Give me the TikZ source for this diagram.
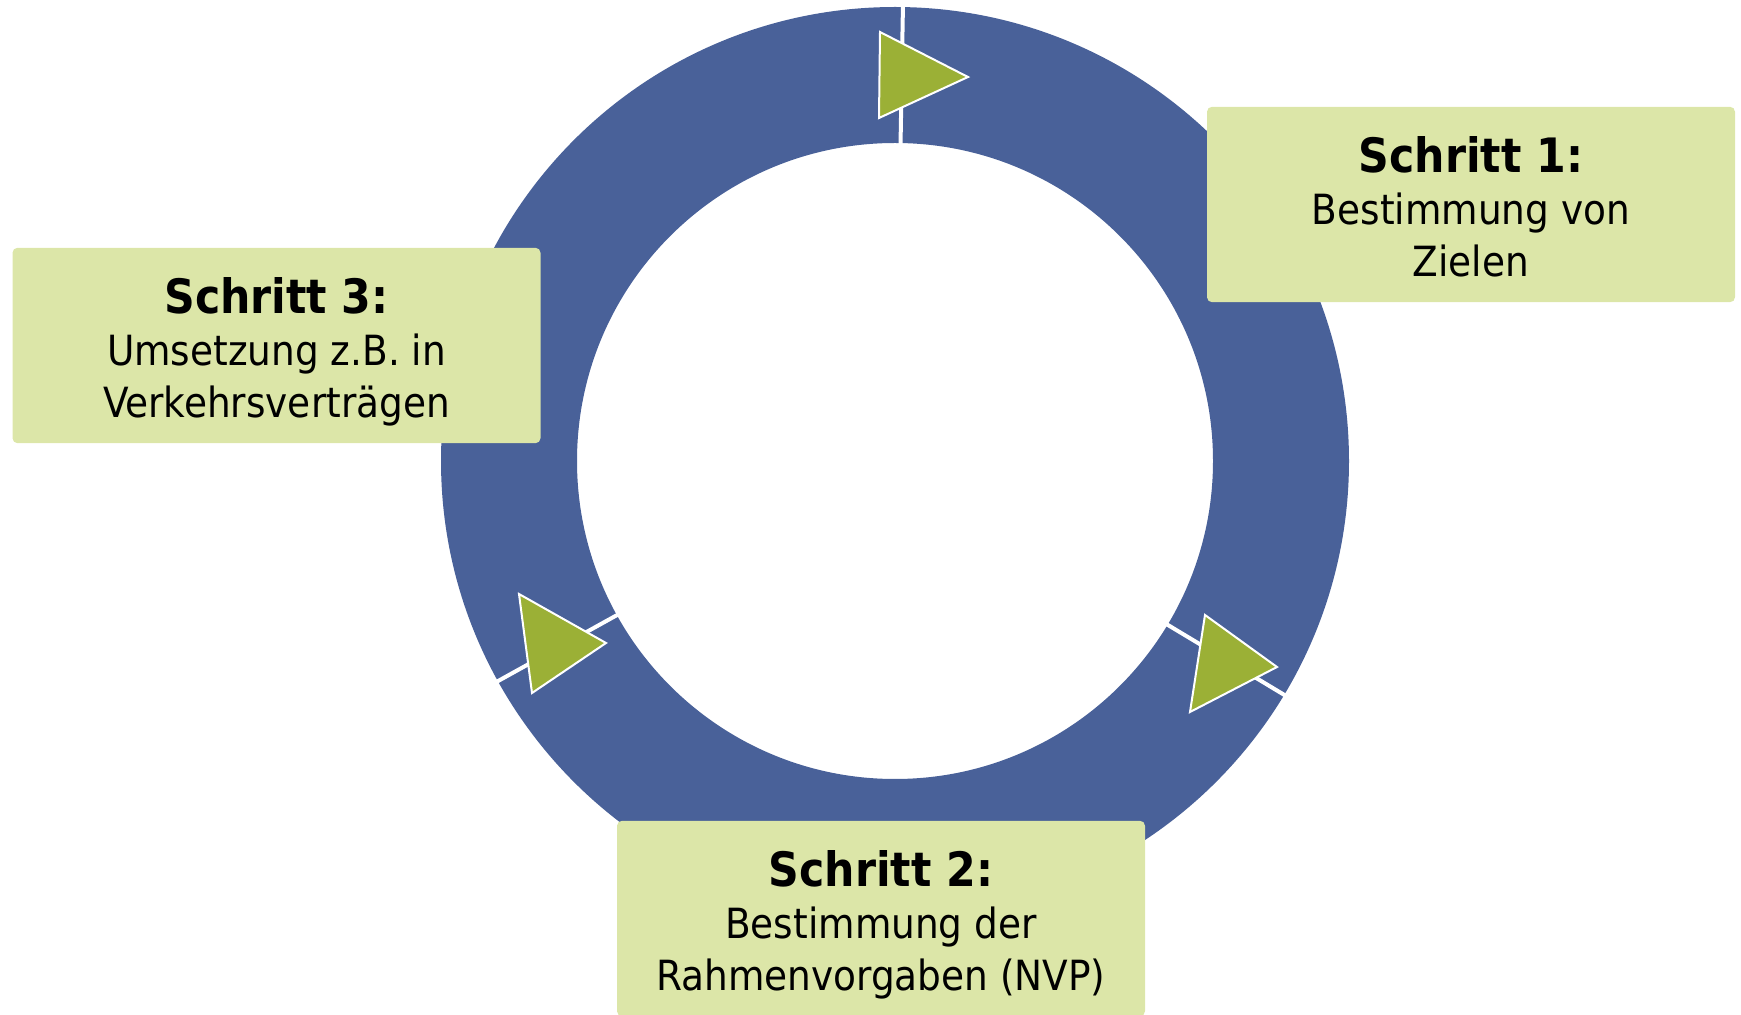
\documentclass[tikz,border=0pt]{standalone}
\usepackage{fontspec}
\setmainfont{DejaVu Sans Condensed}
\usetikzlibrary{positioning}
\definecolor{ringblue}{RGB}{73,97,153}
\definecolor{arrowgreen}{RGB}{155,176,54}
\definecolor{boxgreen}{RGB}{220,230,168}
\tikzset{
    cycle diagram/.style={
            x=0.5pt,y=0.5pt,
            stepbox/.style={fill=boxgreen,rounded corners=2.5pt,
                    minimum width=264pt,minimum height=97.7pt,inner sep=0pt},
            steptext/.style={inner sep=0pt,align=center,
                    font=\fontsize{20.8}{26}\selectfont},
            playtip/.style={fill=arrowgreen,draw=white,line width=1pt},
            gapline/.style={white,line width=2pt}
        }
    }
\newcommand{\steptitle}[1]{{\fontsize{23.7}{26}\selectfont\bfseries #1}}

\begin{document}
\begin{tikzpicture}[cycle diagram]
    \useasboundingbox (0,0) rectangle (1741,-1015);
    \coordinate (c) at (895,-461);
    % ring with three gaps
    \fill [ringblue,even odd rule] (c) circle [radius=454] (c) circle [radius=318];
    \foreach \a in {89,-31,209}
        \draw [gapline] ([shift={(\a:310)}]c) -- ([shift={(\a:462)}]c);
    % arrow heads
    \filldraw [playtip] (880,-32) -- (879,-118) -- (968,-77) -- cycle;
    \filldraw [playtip] (1205,-615) -- (1190,-712) -- (1277,-667) -- cycle;
    \filldraw [playtip] (519,-594) -- (532,-693) -- (606,-643) -- cycle;
    % steps
    \node (box1) [stepbox] at (1471,-204.5) {};
    \node (box2) [stepbox] at (881,-918.5) {};
    \node (box3) [stepbox] at (276.5,-345.5) {};
    \node (step1) [steptext,below=14.6pt of box1.north]
        {\steptitle{Schritt 1:}\\Bestimmung von\\Zielen};
    \node (step2) [steptext,below=14.6pt of box2.north]
        {\steptitle{Schritt 2:}\\Bestimmung der\\Rahmenvorgaben (NVP)};
    \node (step3) [steptext,below=14.6pt of box3.north]
        {\steptitle{Schritt 3:}\\Umsetzung z.B. in\\Verkehrsverträgen};
\end{tikzpicture}
\end{document}
